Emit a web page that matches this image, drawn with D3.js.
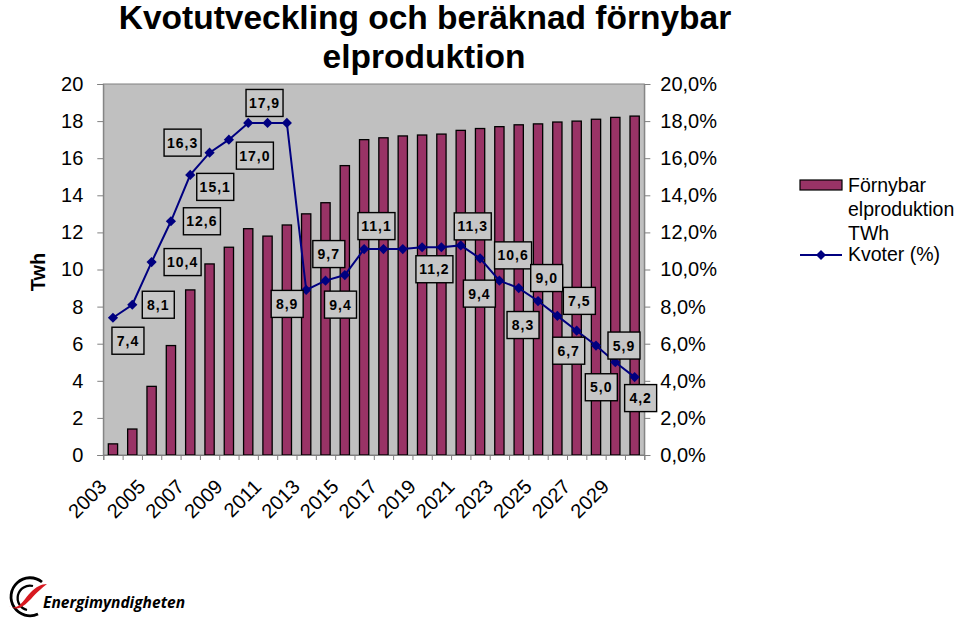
<!DOCTYPE html>
<html><head><meta charset="utf-8">
<script src="https://cdn.jsdelivr.net/npm/d3@7"></script>
<style>
html,body{margin:0;padding:0;background:#fff;}
svg{display:block;font-family:"Liberation Sans",Arial,sans-serif;}
</style></head>
<body>
<svg id="chart" width="960" height="619"></svg>
<script>
// ---- data ----
const years = [2003,2004,2005,2006,2007,2008,2009,2010,2011,2012,2013,2014,2015,2016,2017,2018,2019,2020,2021,2022,2023,2024,2025,2026,2027,2028,2029,2030];
const production = [0.6,1.4,3.7,5.9,8.9,10.3,11.2,12.2,11.8,12.4,13.0,13.6,15.6,17.0,17.1,17.2,17.25,17.3,17.5,17.6,17.7,17.8,17.85,17.95,18.0,18.1,18.2,18.27];
const quota = [7.4,8.1,10.4,12.6,15.1,16.3,17.0,17.9,17.9,17.9,8.9,9.4,9.7,11.1,11.1,11.1,11.2,11.2,11.3,10.6,9.4,9.0,8.3,7.5,6.7,5.9,5.0,4.2];
const labelYears = [2003,2004,2005,2006,2007,2008,2009,2011,2013,2014,2015,2017,2020,2021,2022,2023,2024,2025,2026,2027,2028,2029,2030];
const leftTicks = [0,2,4,6,8,10,12,14,16,18,20];
const rightTicks = [0,2,4,6,8,10,12,14,16,18,20];
const xLabelYears = [2003,2005,2007,2009,2011,2013,2015,2017,2019,2021,2023,2025,2027,2029];
const titleLines = ["Kvotutveckling och beräknad förnybar","elproduktion"];
const legendBarText = ["Förnybar","elproduktion","TWh"];
const legendLineText = "Kvoter (%)";
const yTitle = "Twh";
// label box placement (pixel offsets of box centre from its point) - layout only
const labelOffsets = [[15,23],[26,0],[31,0],[31,0],[25,12],[-27,-10],[26,16],[-3,-20],[-19,14],[15,24],[-16,-21],[-7,-23],[-7,22],[12,-19],[33,-3],[-20,13],[28,-10],[-15,24],[22,-15],[-8,20],[28,0],[-14,25],[6,21]];

// ---- layout ----
const L=103.3, R=644.3, T=84, B=455;
const svg = d3.select("#chart");
const fmt = v => v.toFixed(1).replace(".",",");

const x = d3.scaleBand().domain(years).range([L,R]).paddingInner(0.52).paddingOuter(0.26);
const yL = d3.scaleLinear().domain([0,20]).range([B,T]);
const yR = d3.scaleLinear().domain([0,20]).range([B,T]);
const cx = d => x(d)+x.bandwidth()/2;

// plot background
svg.append("rect").attr("x",L).attr("y",T).attr("width",R-L).attr("height",B-T)
  .attr("fill","#c0c0c0").attr("stroke","#808080").attr("stroke-width",1);

// bars
svg.append("g").selectAll("rect").data(years).join("rect")
  .attr("x",d=>x(d)).attr("width",x.bandwidth())
  .attr("y",(d,i)=>yL(production[i])).attr("height",(d,i)=>B-yL(production[i]))
  .attr("fill","#993366").attr("stroke","#000").attr("stroke-width",1.3);

// left axis
const gl = svg.append("g").attr("transform",`translate(${L},0)`)
  .call(d3.axisLeft(yL).tickValues(leftTicks).tickSize(6).tickPadding(14).tickFormat(d=>d));
gl.select(".domain").attr("stroke","#808080");
gl.selectAll(".tick line").attr("stroke","#808080");
gl.selectAll(".tick text").attr("font-size",20).attr("fill","#000").attr("font-family","Liberation Sans, Arial, sans-serif");

// right axis
const gr = svg.append("g").attr("transform",`translate(${R},0)`)
  .call(d3.axisRight(yR).tickValues(rightTicks).tickSize(6).tickPadding(10).tickFormat(d=>fmt(d)+"%"));
gr.select(".domain").attr("stroke","#808080");
gr.selectAll(".tick line").attr("stroke","#808080");
gr.selectAll(".tick text").attr("font-size",20).attr("fill","#000").attr("font-family","Liberation Sans, Arial, sans-serif");

// bottom axis tick marks at category boundaries
const xb = d3.scaleLinear().domain([0,years.length]).range([L,R]);
const gb = svg.append("g").attr("transform",`translate(0,${B})`)
  .call(d3.axisBottom(xb).tickValues(d3.range(0,years.length+1)).tickSize(5).tickFormat(""));
gb.select(".domain").attr("stroke","#808080");
gb.selectAll(".tick line").attr("stroke","#808080");

// bottom labels
const gx = svg.append("g").attr("transform",`translate(0,${B})`)
  .call(d3.axisBottom(x).tickValues(xLabelYears).tickSize(0).tickFormat(d=>d));
gx.select(".domain").remove();
gx.selectAll(".tick text").attr("font-size",20).attr("fill","#000")
  .attr("font-family","Liberation Sans, Arial, sans-serif")
  .attr("text-anchor","end").attr("x",0).attr("y",0).attr("dy",0)
  .attr("transform","translate(-5,33) rotate(-45)");

// line
const line = d3.line().x(d=>cx(d)).y((d,i)=>yR(quota[i]));
svg.append("path").datum(years).attr("d",line).attr("fill","none")
  .attr("stroke","#000080").attr("stroke-width",2);
svg.append("g").selectAll("path").data(years).join("path")
  .attr("d",d3.symbol(d3.symbolSquare,52)())
  .attr("transform",(d,i)=>`translate(${cx(d)},${yR(quota[i])}) rotate(45)`)
  .attr("fill","#000080");

// data labels
const lg = svg.append("g");
labelYears.forEach((yr,k)=>{
  const i = years.indexOf(yr);
  const px = cx(yr)+labelOffsets[k][0], py = yR(quota[i])+labelOffsets[k][1];
  const txt = fmt(quota[i]);
  const w = txt.length>3 ? 37 : 32;
  lg.append("rect").attr("x",px-w/2).attr("y",py-13.5).attr("width",w).attr("height",27)
    .attr("fill","#c6c6c6").attr("stroke","#000").attr("stroke-width",1.4);
  lg.append("text").attr("x",px).attr("y",py+5).attr("text-anchor","middle")
    .attr("font-size",14).attr("font-weight","bold").attr("letter-spacing",1).text(txt);
});

// title
svg.append("text").attr("x",425).attr("y",29).attr("text-anchor","middle")
  .attr("font-size",33.5).attr("font-weight","bold").text(titleLines[0]);
svg.append("text").attr("x",424).attr("y",68).attr("text-anchor","middle")
  .attr("font-size",33.5).attr("font-weight","bold").text(titleLines[1]);

// y title
svg.append("text").attr("transform","translate(45,272) rotate(-90)").attr("text-anchor","middle")
  .attr("font-size",20).attr("font-weight","bold").text(yTitle);

// legend
svg.append("rect").attr("x",800).attr("y",180).attr("width",42).attr("height",10)
  .attr("fill","#993366").attr("stroke","#000").attr("stroke-width",1.2);
legendBarText.forEach((t,k)=>{
  svg.append("text").attr("x",848).attr("y",192+k*24).attr("font-size",19.5).text(t);
});
svg.append("line").attr("x1",800).attr("x2",842).attr("y1",255).attr("y2",255)
  .attr("stroke","#000080").attr("stroke-width",2);
svg.append("path").attr("d",d3.symbol(d3.symbolSquare,50)())
  .attr("transform","translate(821,255) rotate(45)").attr("fill","#000080");
svg.append("text").attr("x",848).attr("y",261).attr("font-size",19.5).text(legendLineText);

// logo
const logo = svg.append("g");
logo.append("path").attr("d","M42,582 A19,19 0 1 0 38,614").attr("fill","none").attr("stroke","#000").attr("stroke-width",2.8);
logo.append("path").attr("d","M33,586 A12,12 0 1 0 27,610").attr("fill","none").attr("stroke","#000").attr("stroke-width",2.3);
logo.append("path").attr("d","M9,606 C18,612 24,599 31,592 C36,587 41,584 47,584 C42,588 37,592 31,599 C24,606 18,612 9,606 Z").attr("fill","#d71920");
logo.append("text").attr("x",43).attr("y",608).attr("font-size",16).attr("font-style","italic")
  .attr("font-weight","bold").attr("font-family","Open Sans, sans-serif")
  .attr("textLength",142).attr("lengthAdjust","spacingAndGlyphs").text("Energimyndigheten");
</script>
</body></html>
